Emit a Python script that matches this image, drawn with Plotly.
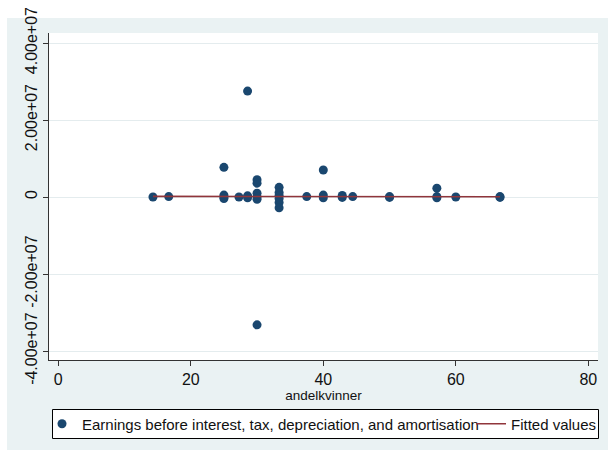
import plotly.graph_objects as go

# ---- data ----
andelkvinner = [14.29, 16.67,
                25, 25, 25, 25,
                27.27,
                28.57, 28.57, 28.57,
                30, 30, 30, 30, 30, 30,
                33.33, 33.33, 33.33, 33.33, 33.33, 33.33,
                37.5,
                40, 40, 40,
                42.86, 42.86,
                44.44,
                50, 50,
                57.14, 57.14, 57.14,
                60,
                66.67, 66.67]
ebitda = [0.0, 0.1e6,
          7.7e6, 0.5e6, 0.0, -0.4e6,
          0.0,
          27.5e6, 0.3e6, -0.2e6,
          4.5e6, 3.6e6, 1.0e6, 0.0, -0.6e6, -33.2e6,
          2.5e6, 1.2e6, 0.4e6, -0.4e6, -1.4e6, -2.8e6,
          0.1e6,
          7.0e6, 0.5e6, -0.2e6,
          0.4e6, -0.1e6,
          0.1e6,
          0.1e6, -0.1e6,
          2.3e6, 0.1e6, -0.2e6,
          0.0,
          0.1e6, -0.1e6]
fit_x = [14.29, 66.67]
fit_y = [0.15e6, 0.05e6]

x_ticks = [0, 20, 40, 60, 80]
y_ticks = [-4e7, -2e7, 0, 2e7, 4e7]
y_ticktext = ["-4.00e+07", "-2.00e+07", "0", "2.00e+07", "4.00e+07"]

# ---- layout geometry (pixels) ----
W, H = 608, 452
L, R, T, B = 49, 598, 33, 360
pw, ph = R - L, B - T

def px_x(p):
    return (p - L) / pw

def px_y(p):
    return (B - p) / ph

BG = "#EAF2F3"
FONT = "Liberation Sans, Arial, sans-serif"
TXT = "#111"

fig = go.Figure()
fig.add_trace(go.Scatter(
    x=andelkvinner, y=ebitda, mode="markers",
    name="Earnings before interest, tax, depreciation, and amortisation",
    marker=dict(color="#1A476F", size=9, line=dict(width=0)),
    legend="legend",
))
fig.add_trace(go.Scatter(
    x=fit_x, y=fit_y, mode="lines", name="Fitted values",
    line=dict(color="#90353B", width=1.6),
    legend="legend2",
))

leg_common = dict(
    orientation="h", yanchor="middle", y=px_y(424), xanchor="left",
    bgcolor="rgba(0,0,0,0)", borderwidth=0,
    font=dict(family=FONT, size=15, color=TXT),
    itemwidth=30,
)

fig.update_layout(
    width=W, height=H,
    margin=dict(l=L, r=W - R, t=T, b=H - B, pad=0, autoexpand=False),
    paper_bgcolor="white",
    plot_bgcolor="white",
    font=dict(family=FONT, size=13, color=TXT),
    showlegend=True,
    legend=dict(x=px_x(42), **leg_common),
    legend2=dict(x=px_x(471), **leg_common),
    shapes=[
        dict(type="rect", xref="paper", yref="paper",
             x0=px_x(7), x1=px_x(608), y0=px_y(450), y1=px_y(18),
             fillcolor=BG, line=dict(width=0), layer="below"),
        dict(type="rect", xref="paper", yref="paper",
             x0=0, x1=1, y0=0, y1=1,
             fillcolor="white", line=dict(width=0), layer="below"),
        dict(type="rect", xref="paper", yref="paper",
             x0=px_x(52.5), x1=px_x(598.5), y0=px_y(438.5), y1=px_y(409.5),
             fillcolor="white", line=dict(width=1, color="black"), layer="above"),
    ],
)

fig.update_xaxes(
    range=[(L - 58.3) / 6.625, (R - 58.3) / 6.625],
    tickvals=x_ticks, ticktext=[str(v) for v in x_ticks],
    ticks="outside", ticklen=5, tickcolor="#333", tickwidth=1,
    showline=True, linecolor="#333", linewidth=1, mirror=False,
    showgrid=False, zeroline=False,
    tickfont=dict(size=16, color=TXT),
    title=dict(text="andelkvinner", font=dict(size=13.5, color=TXT), standoff=0),
    automargin=False,
)
fig.update_yaxes(
    range=[-(B - 197) / 38.5 * 1e7, (197 - T) / 38.5 * 1e7],
    tickvals=y_ticks, ticktext=y_ticktext, tickangle=-90,
    ticks="outside", ticklen=5, tickcolor="#333", tickwidth=1,
    showline=True, linecolor="#333", linewidth=1, mirror=False,
    showgrid=True, gridcolor="#E4ECEE", gridwidth=1, zeroline=False,
    tickfont=dict(size=16, color=TXT),
    automargin=False,
)

fig.write_html("out.html")
